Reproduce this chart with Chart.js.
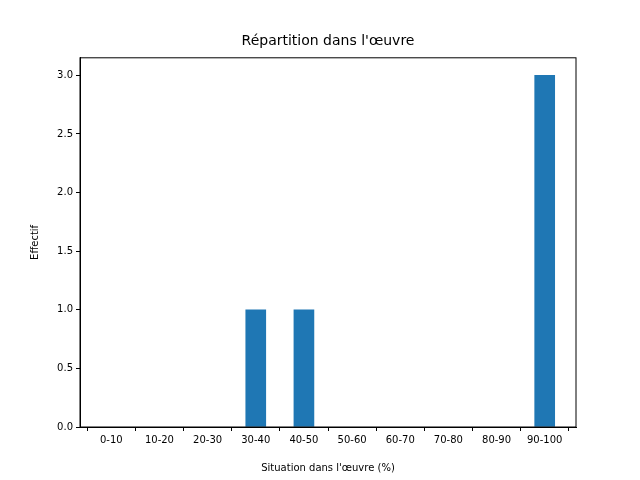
<!DOCTYPE html>
<html>
<head>
<meta charset="utf-8">
<script src="https://cdn.jsdelivr.net/npm/chart.js@4"></script>
<style>
  html, body { margin: 0; padding: 0; background: #fff; }
  #wrap { width: 640px; height: 480px; }
</style>
</head>
<body>
<div id="wrap"><canvas id="chart"></canvas></div>
<script>
const categories = ['0-10', '10-20', '20-30', '30-40', '40-50', '50-60', '60-70', '70-80', '80-90', '90-100'];
const counts = [0, 0, 0, 1, 1, 0, 0, 0, 0, 3];
const yTicks = [0, 0.5, 1, 1.5, 2, 2.5, 3];

const font = { family: 'DejaVu Sans', size: 10 };

const frame = {
  id: 'frame',
  afterDraw(chart) {
    const { ctx, chartArea: a } = chart;
    ctx.save();
    ctx.strokeStyle = '#000';
    ctx.lineWidth = 1;
    ctx.strokeRect(a.left, a.top, a.right - a.left, a.bottom - a.top);
    ctx.restore();
  }
};

new Chart(document.getElementById('chart'), {
  type: 'bar',
  data: {
    datasets: [{
      data: counts.map((v, i) => ({ x: i, y: v === 0 ? null : v })),
      backgroundColor: '#1f77b4',
      borderWidth: 0,
      barThickness: 20
    }]
  },
  options: {
    responsive: true,
    maintainAspectRatio: false,
    animation: false,
    layout: { padding: { left: 16, right: 0, top: 0, bottom: 6 } },
    plugins: {
      legend: { display: false },
      tooltip: { enabled: false },
      title: {
        display: true,
        text: "Répartition dans l'œuvre",
        color: '#000',
        font: { family: 'DejaVu Sans', size: 14, weight: 'normal' },
        padding: { top: 33, bottom: 8 }
      }
    },
    scales: {
      x: {
        type: 'linear',
        offset: false,
        min: -0.65,
        max: 9.65,
        afterBuildTicks: s => { s.ticks = categories.map((c, i) => ({ value: i })); },
        afterFit: s => { s.height = 47; },
        ticks: { color: '#000', font, callback: v => categories[v], autoSkip: false, maxRotation: 0 },
        grid: { drawOnChartArea: false, tickLength: 4, color: '#000' },
        border: { color: '#000' },
        title: { display: true, text: "Situation dans l'œuvre (%)", color: '#000', font: { family: 'DejaVu Sans', size: 10 }, padding: { top: 4, bottom: 0 } }
      },
      y: {
        min: 0,
        max: 3.15,
        afterBuildTicks: s => { s.ticks = yTicks.map(v => ({ value: v })); },
        afterFit: s => { s.width = 64; },
        ticks: { color: '#000', font, callback: v => v.toFixed(1) },
        grid: { drawOnChartArea: false, tickLength: 4, color: '#000' },
        border: { color: '#000' },
        title: { display: true, text: 'Effectif', color: '#000', font: { family: 'DejaVu Sans', size: 10 }, padding: { top: 13, bottom: 0 } }
      },
      y2: {
        position: 'right',
        min: 0,
        max: 3.15,
        afterFit: s => { s.width = 64; },
        ticks: { display: false },
        grid: { display: false },
        border: { display: false }
      }
    }
  },
  plugins: [frame]
});
</script>
</body>
</html>
